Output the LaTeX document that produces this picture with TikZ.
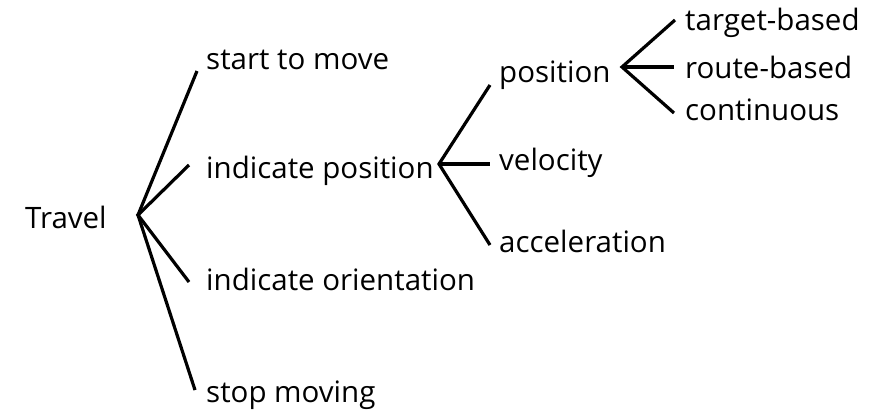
\documentclass[tikz,border=0pt]{standalone}
\usepackage{fontspec}
\setmainfont{Open Sans}
\begin{document}
\begin{tikzpicture}[x=1pt,y=-1pt,
  lbl/.style={anchor=base west,inner sep=0pt,font=\fontsize{29.5}{34}\selectfont},
  br/.style={line width=3.2pt,black}]
\useasboundingbox (0,0) rectangle (879,410);
% labels
\node[lbl] (travel) at (25,228) {Travel};
\node[lbl] (start) at (206,69) {start to move};
\node[lbl] (indpos) at (206,178) {indicate position};
\node[lbl] (indori) at (206,290) {indicate orientation};
\node[lbl] (stop) at (206,402) {stop moving};
\node[lbl] (pos) at (499,82) {position};
\node[lbl] (vel) at (499,170) {velocity};
\node[lbl] (acc) at (499,252) {acceleration};
\node[lbl] (tgt) at (685,30) {target-based};
\node[lbl] (route) at (685,78) {route-based};
\node[lbl] (cont) at (685,120) {continuous};
% hubs and ends
\coordinate (h1) at (138,215);
\coordinate (e11) at (197,71);
\coordinate (e12) at (189,165);
\coordinate (e13) at (189,282);
\coordinate (e14) at (195,390);
\coordinate (h2) at (439,164);
\coordinate (e21) at (490,85);
\coordinate (e22) at (490,164);
\coordinate (e23) at (490,245);
\coordinate (h3) at (622,67);
\coordinate (e31) at (675,20);
\coordinate (e32) at (674,67);
\coordinate (e33) at (674,113);
\draw[br] (e11) -- (h1) -- (e14);
\draw[br] (e12) -- (h1) -- (e13);
\draw[br] (e21) -- (h2) -- (e23);
\draw[br] (h2) -- (e22);
\draw[br] (e31) -- (h3) -- (e33);
\draw[br] (h3) -- (e32);
\end{tikzpicture}
\end{document}
